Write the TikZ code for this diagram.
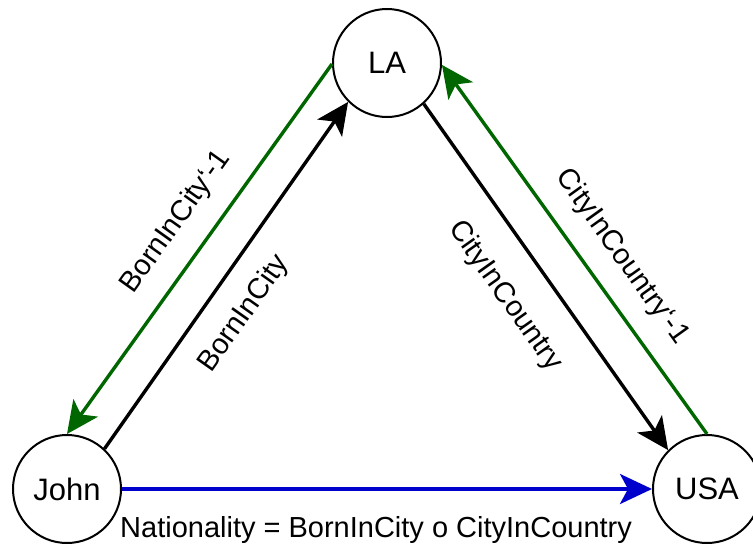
\documentclass[tikz,border=0pt]{standalone}
\usepackage{fontspec}
\setmainfont{Liberation Sans}
\usetikzlibrary{arrows.meta}
\definecolor{edgegreen}{RGB}{0,102,0}
\definecolor{edgeblue}{RGB}{0,0,204}
\begin{document}
\begin{tikzpicture}[x=1pt,y=-1pt,
  ent/.style={circle, draw=black, line width=2pt, minimum size=108pt, inner sep=0pt, font=\fontsize{31}{31}\selectfont},
  conn/.style={line width=3.4pt, -{Stealth[length=32pt,width=30pt,inset=8pt]}},
  lbl/.style={font=\fontsize{29}{29}\selectfont, inner sep=0pt}]
\useasboundingbox (0,0) rectangle (753,549);
\node[ent] (LA) at (387,63) {LA};
\node[ent] (John) at (67,489) {John};
\node[ent] (USA) at (707,489) {USA};
\draw[conn, edgegreen] (LA.181) -- (John.90);
\draw[conn, black] (John.47) -- (LA.225);
\draw[conn, black] (LA.312) -- (USA.135);
\draw[conn, edgegreen] (USA.90) -- (LA.358);
\draw[conn, edgeblue] (John.0) -- (USA.180);
\node[lbl, rotate=54.5] (l1) at (176,222) {BornInCity{\char"60}-1};
\node[lbl, rotate=54.8] (l2) at (244,314) {BornInCity};
\node[lbl, rotate=-54.7] (l3) at (505,296) {CityInCountry};
\node[lbl, rotate=-54.4] (l4) at (622,257) {CityInCountry{\char"60}-1};
\node[lbl, anchor=base west] (l5) at (120,537) {Nationality = BornInCity o CityInCountry};
\end{tikzpicture}
\end{document}
